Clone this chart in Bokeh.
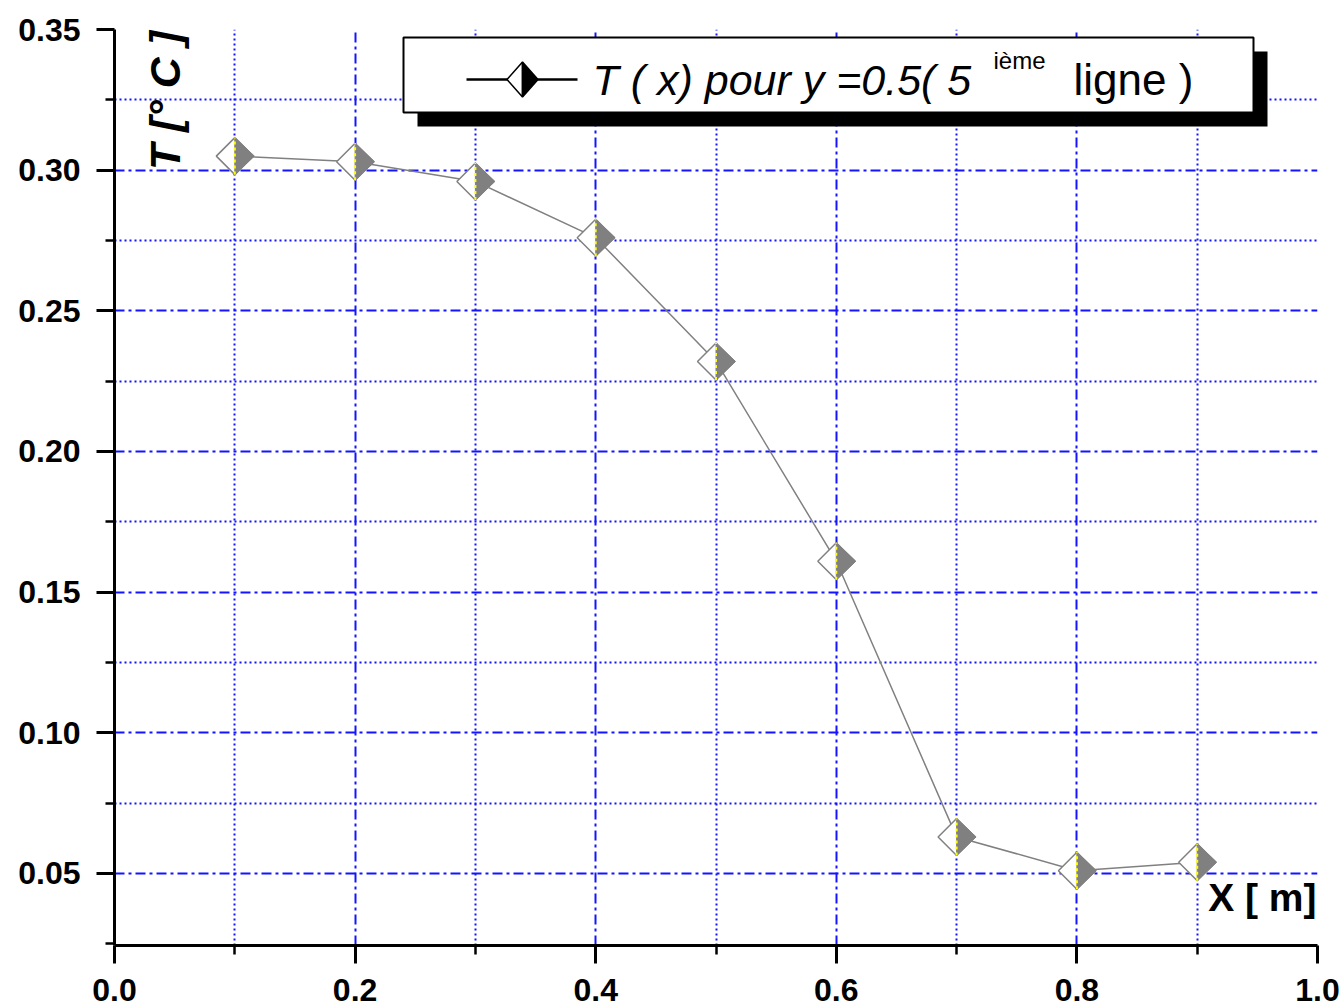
import math
from bokeh.plotting import figure
from bokeh.models import (FixedTicker, PrintfTickFormatter, Label, BoxAnnotation,
                          PolyAnnotation, ColumnDataSource)
from bokeh.embed import file_html
from bokeh.resources import INLINE

# ---------------- data ----------------
x_pos = [0.1, 0.2, 0.3, 0.4, 0.5, 0.6, 0.7, 0.8, 0.9]
temperature = [0.305, 0.303, 0.296, 0.276, 0.232, 0.161, 0.063, 0.051, 0.054]

x_ticks = [0.0, 0.2, 0.4, 0.6, 0.8, 1.0]
x_tick_labels = ["0.0", "0.2", "0.4", "0.6", "0.8", "1.0"]
x_minor_ticks = [0.1, 0.3, 0.5, 0.7, 0.9]
y_ticks = [0.05, 0.10, 0.15, 0.20, 0.25, 0.30, 0.35]
y_tick_labels = ["0.05", "0.10", "0.15", "0.20", "0.25", "0.30", "0.35"]
y_minor_ticks = [0.025, 0.075, 0.125, 0.175, 0.225, 0.275, 0.325]

legend_main = "T ( x) pour y =0.5( 5"
legend_sup = "ième"
legend_tail = "ligne )"
x_title = "X [ m]"
y_title = "T [° C ]"

# ---------------- layout ----------------
X0, X1 = 0.0, 1.0
Y0, Y1 = 0.0244, 0.35
FW, FH = 1203, 916
PX_X = FW / (X1 - X0)
PX_Y = FH / (Y1 - Y0)
FONT = "Liberation Sans"
BLUE = "#1414ff"
GREY = "#808080"


def rx(px):
    # picture pixel -> data x
    return X0 + (px - 114) / PX_X


def ry(py):
    # picture pixel -> data y
    return Y0 + (945 - py) / PX_Y


p = figure(frame_width=FW, frame_height=FH, x_range=(X0, X1), y_range=(Y0, Y1),
           output_backend="svg", toolbar_location=None,
           min_border_left=114, min_border_right=23, min_border_top=29,
           min_border_bottom=61)
p.outline_line_color = None
p.background_fill_color = "white"
p.border_fill_color = "white"

# axes
p.xaxis.ticker = FixedTicker(ticks=x_ticks, minor_ticks=x_minor_ticks)
p.xaxis.formatter = PrintfTickFormatter(format="%.1f")
p.xaxis.major_label_overrides = dict(zip(x_ticks, x_tick_labels))
p.yaxis.ticker = FixedTicker(ticks=y_ticks, minor_ticks=y_minor_ticks)
p.yaxis.formatter = PrintfTickFormatter(format="%.2f")
p.yaxis.major_label_overrides = dict(zip(y_ticks, y_tick_labels))

for ax in (p.xaxis[0], p.yaxis[0]):
    ax.axis_line_color = "black"
    ax.axis_line_width = 3
    ax.major_tick_line_color = "black"
    ax.major_tick_line_width = 3
    ax.minor_tick_line_color = "black"
    ax.minor_tick_line_width = 2.5
    ax.major_tick_in = 0
    ax.minor_tick_in = 0
    ax.major_label_text_font = FONT
    ax.major_label_text_font_style = "bold"
    ax.major_label_text_font_size = "32px"
    ax.major_label_text_color = "black"

p.xaxis.major_tick_out = 18
p.xaxis.minor_tick_out = 9
p.xaxis.major_label_standoff = 15
p.yaxis.major_tick_out = 18
p.yaxis.minor_tick_out = 9
p.yaxis.major_label_standoff = 16

# grid
p.xgrid.ticker = FixedTicker(ticks=x_ticks[1:-1], minor_ticks=x_minor_ticks)
p.ygrid.ticker = FixedTicker(ticks=y_ticks[:-1], minor_ticks=y_minor_ticks[1:])
for g in (p.xgrid[0], p.ygrid[0]):
    g.grid_line_color = BLUE
    g.grid_line_width = 2
    g.grid_line_dash = "10 4 3 4"
    g.minor_grid_line_color = BLUE
    g.minor_grid_line_width = 2
    g.minor_grid_line_dash = "2 3"

# ---------------- series ----------------
src = ColumnDataSource(dict(x=x_pos, y=temperature))
p.line("x", "y", source=src, line_color=GREY, line_width=1.5)

R = 18.5  # marker half-diagonal in px
p.scatter("x", "y", source=src, marker="square", angle=math.pi / 4,
          size=R * math.sqrt(2), fill_color="white", line_color=GREY, line_width=1.5)

dx = (R + 1) / PX_X
dy = R / PX_Y
half_src = ColumnDataSource(dict(
    xs=[[xv, xv + dx, xv] for xv in x_pos],
    ys=[[yv + dy, yv, yv - dy] for yv in temperature]))
p.patches("xs", "ys", source=half_src, fill_color=GREY, line_color=GREY, line_width=1)

p.scatter("x", "y", source=src, marker="dash", angle=math.pi / 2, size=2 * R,
          line_color="#ffff00", line_width=2, line_dash="3 3")

# ---------------- titles ----------------
p.add_layout(Label(x=rx(164), y=ry(100), text=y_title, angle=90, angle_units="deg",
                   text_align="center", text_baseline="middle", text_font=FONT,
                   text_font_style="bold italic", text_font_size="43px",
                   text_color="black"))
p.add_layout(Label(x=rx(1316), y=ry(897), text=x_title, text_align="right",
                   text_baseline="middle", text_font=FONT, text_font_style="bold",
                   text_font_size="39px", text_color="black"))

# ---------------- legend ----------------
p.add_layout(BoxAnnotation(left=rx(417), right=rx(1267), top=ry(51), bottom=ry(126),
                           fill_color="black", fill_alpha=1, line_color=None))
p.add_layout(BoxAnnotation(left=rx(403), right=rx(1253), top=ry(37), bottom=ry(112),
                           fill_color="white", fill_alpha=1, line_color="black",
                           line_alpha=1, line_width=2))
cx, cy = rx(522), ry(79)
p.add_layout(BoxAnnotation(left=rx(466), right=rx(577), top=cy + 1.2 / PX_Y,
                           bottom=cy - 1.2 / PX_Y, fill_color="black", fill_alpha=1,
                           line_color=None))
hw, hh = 15.5 / PX_X, 17.5 / PX_Y
p.add_layout(PolyAnnotation(xs=[cx, cx - hw, cx], ys=[cy + hh, cy, cy - hh],
                            fill_color="white", fill_alpha=1, line_color="black",
                            line_alpha=1, line_width=1.5))
p.add_layout(PolyAnnotation(xs=[cx, cx + hw, cx], ys=[cy + hh, cy, cy - hh],
                            fill_color="black", fill_alpha=1, line_color="black",
                            line_alpha=1, line_width=1.5))

p.add_layout(Label(x=rx(592), y=ry(79), text=legend_main, text_align="left",
                   text_baseline="alphabetic", text_font=FONT,
                   text_font_style="italic", text_font_size="43px", text_color="black"))
p.add_layout(Label(x=rx(993), y=ry(60), text=legend_sup, text_align="left",
                   text_baseline="alphabetic", text_font=FONT,
                   text_font_size="24px", text_color="black"))
p.add_layout(Label(x=rx(1073), y=ry(79), text=legend_tail, text_align="left",
                   text_baseline="alphabetic", text_font=FONT,
                   text_font_size="44px", text_color="black"))

open("out.html", "w").write(file_html(p, INLINE))
